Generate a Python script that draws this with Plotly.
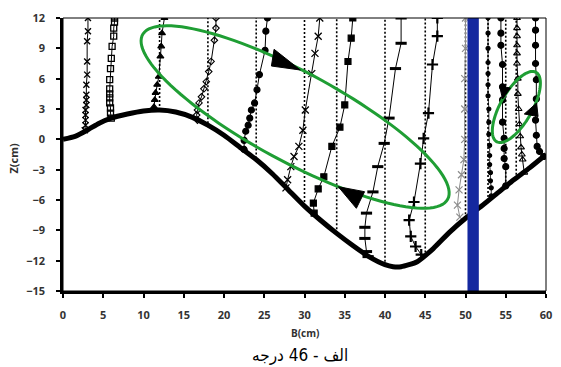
import plotly.graph_objects as go
import numpy as np

# ---------------- data ----------------
bed_x = [0, 1.5, 3, 4.5, 6, 8, 10, 12, 14, 16, 18, 20, 22, 24, 26, 28, 30, 32, 34, 36, 38, 40, 41, 42, 44, 46, 48, 50, 52, 54, 56, 58, 60]
bed_z = [0, 0.3, 0.9, 1.6, 2.1, 2.5, 2.8, 2.9, 2.7, 2.2, 1.4, 0.4, -0.8, -2.0, -3.4, -5.0, -6.6, -8.0, -9.3, -10.5, -11.6, -12.4, -12.6, -12.6, -12.1, -10.8, -9.2, -7.8, -6.6, -5.3, -4.0, -2.8, -1.5]

p1_x = [3.1, 3.1, 3.0, 3.0, 3.0, 2.9, 2.9, 2.9, 2.9, 2.8, 2.8, 2.8, 2.8, 2.7]
p1_z = [12, 10.7, 9.7, 7.7, 6.4, 5.4, 4.4, 3.9, 3.4, 2.9, 2.4, 1.9, 1.4, 0.9]

p2_x = [6.4, 6.4, 6.3, 6.3, 6.1, 6.0, 5.9, 5.8, 5.8, 5.8, 5.8, 5.8, 5.9, 5.9, 6.0]
p2_z = [12, 11.6, 11.0, 10.2, 9.2, 8.0, 7.0, 5.9, 5.0, 4.5, 4.1, 3.6, 3.1, 2.6, 2.1]

p3_x = [12.6, 12.3, 12.2, 12.1, 11.9, 11.7, 11.5, 11.4, 11.3, 11.2]
p3_z = [12, 10.5, 9.2, 8.2, 6.2, 5.4, 4.6, 3.9, 3.2, 2.9]

p4_x = [19.0, 19.0, 18.8, 18.4, 18.1, 17.8, 17.5, 17.2, 16.9, 16.7, 16.6, 16.7]
p4_z = [12, 11.0, 9.8, 7.7, 6.7, 5.7, 5.0, 4.2, 3.6, 2.9, 2.4, 1.9]

p5_x = [25.4, 25.2, 25.1, 24.4, 24.1, 23.8, 23.4, 23.2, 23.0, 22.7, 22.5, 22.5]
p5_z = [12, 10.7, 8.8, 6.4, 4.9, 3.6, 2.9, 2.1, 1.4, 0.8, -0.1, -1.0]

p6_x = [31.9, 31.7, 31.3, 30.9, 30.1, 29.8, 29.3, 28.7, 28.3, 27.9, 27.7]
p6_z = [12, 10.2, 8.5, 6.5, 2.9, 0.9, -0.7, -1.7, -2.7, -4.0, -4.8]

p7_x = [36.0, 35.8, 35.4, 35.0, 34.4, 33.4, 32.4, 31.7, 31.1, 31.2]
p7_z = [12, 10.0, 7.7, 3.4, 1.2, -0.7, -3.7, -4.9, -6.3, -7.3]

p8_x = [42.0, 42.0, 41.3, 40.5, 39.9, 39.1, 38.5, 37.7, 37.5, 37.5, 37.7, 37.9]
p8_z = [12, 9.5, 7.0, 2.1, -0.4, -2.7, -5.2, -7.3, -8.7, -9.8, -11.1, -11.6]

p9_x = [46.5, 46.5, 45.9, 45.4, 44.8, 44.4, 43.6, 43.0, 43.2, 43.8, 44.5]
p9_z = [12, 10.2, 7.4, 2.6, 0.1, -2.4, -6.2, -8.0, -9.6, -10.6, -11.4]

p10_x = [50.0, 50.0, 49.9, 49.9, 49.9, 49.8, 49.5, 49.2, 49.0, 49.3]
p10_z = [12, 9.0, 6.0, 3.0, 0.0, -2.0, -3.5, -5.0, -6.5, -7.7]

p11_x = [52.8, 52.8, 52.8, 52.8, 52.8, 52.8, 52.8, 52.9, 52.9, 52.9, 53.0, 53.0, 53.0, 53.1, 53.1, 53.2, 53.2]
p11_z = [12, 10.5, 9.0, 7.6, 6.5, 5.4, 4.3, 3.0, 1.7, 0.5, -0.6, -1.6, -2.5, -3.3, -4.1, -4.8, -5.6]

p12_x = [54.4, 54.4, 54.4, 54.6, 54.6, 54.6, 54.6, 54.8, 54.8, 54.8, 55.0, 55.0]
p12_z = [12, 10.5, 9.3, 7.4, 5.2, 3.9, 1.7, 0.1, -0.9, -1.9, -2.7, -4.6]

p13_x = [56.4, 56.4, 56.4, 56.4, 56.4, 56.4, 56.5, 56.5, 56.6, 56.7, 56.8, 56.9, 57.0, 57.1, 57.3]
p13_z = [12, 11.0, 10.2, 9.3, 8.5, 7.5, 6.0, 4.5, 3.0, 1.5, 0.3, -0.8, -1.5, -2.0, -3.3]

p14_x = [58.7, 58.7, 58.7, 58.7, 58.8, 58.8, 58.7, 58.8, 58.9, 59.2, 59.7]
p14_z = [12, 10.8, 9.3, 7.5, 5.9, 4.0, 1.9, 0.4, -0.7, -1.2, -1.7]

guide_x = [12.0, 18.0, 24.0, 30.0, 34.0, 40.0, 45.0, 50.0, 52.8, 55.0, 56.3]
guide_base = [2.9, 1.2, -1.9, -6.6, -9.3, -12.1, -11.2, -7.8, -6.1, -4.6, -3.9]
guide_top = 12

x_ticks = list(range(0, 61, 5))
y_ticks = list(range(-15, 13, 3))

# ---------------- figure ----------------
W, H = 561, 367
ML, MR, MT, MB = 63, 9, 18, 76
X0, X1, Y0, Y1 = 0, 60, -15, 12
pw, ph = W - ML - MR, H - MT - MB

def px2d(px, py):
    return (X0 + (px - ML) / pw * (X1 - X0), Y1 - (py - MT) / ph * (Y1 - Y0))

fig = go.Figure()

# dashed guide lines
for gx, gb in zip(guide_x, guide_base):
    fig.add_trace(go.Scatter(x=[gx, gx], y=[gb, guide_top], mode="lines",
                             line=dict(color="black", width=1.6, dash="2px,2px"),
                             hoverinfo="skip", showlegend=False))

def prof(xs, zs, symbol, size, color="black", lw=1, mlw=1.2, mcolor=None):
    fig.add_trace(go.Scatter(x=xs, y=zs, mode="lines+markers",
                             line=dict(color=color, width=lw),
                             marker=dict(symbol=symbol, size=size, color=mcolor or color,
                                         line=dict(color=color, width=mlw)),
                             showlegend=False))

prof(p1_x, p1_z, "x-thin", 6, mlw=1.4)
prof(p2_x, p2_z, "square-open", 6, mlw=1.3)
prof(p3_x, p3_z, "triangle-up", 6)
prof(p4_x, p4_z, "diamond-open", 5, mlw=1.1)
prof(p5_x, p5_z, "circle", 6)
prof(p6_x, p6_z, "x-thin", 7, mlw=1.3)
prof(p7_x, p7_z, "square", 6)
prof(p8_x, p8_z, "line-ew", 8, mlw=3)
prof(p9_x, p9_z, "cross-thin", 8, mlw=2.2)
prof(p10_x, p10_z, "x-thin", 7, color="#8c8c8c", mlw=1.2)
prof(p11_x, p11_z, "circle", 4, lw=0.8)
prof(p12_x, p12_z, "circle", 6)
prof(p13_x, p13_z, "triangle-up-open", 6, mlw=1.1)
prof(p14_x, p14_z, "circle", 6)

# bed profile
fig.add_trace(go.Scatter(x=bed_x, y=bed_z, mode="lines",
                         line=dict(color="black", width=5, shape="spline", smoothing=0.6),
                         showlegend=False))

shapes = []
# blue bar
bx0, _ = px2d(472.5, 0)
bx1, _ = px2d(484, 0)
shapes.append(dict(type="rect", xref="x", yref="y", x0=bx0, x1=bx1, y0=Y0, y1=Y1,
                   fillcolor="#14289f", line=dict(width=0), layer="above"))

def ellipse_path(cx, cy, a, b, ang_deg, n=120):
    t = np.linspace(0, 2 * np.pi, n)
    ang = np.radians(ang_deg)
    px = cx + a * np.cos(t) * np.cos(ang) - b * np.sin(t) * np.sin(ang)
    py = cy + a * np.cos(t) * np.sin(ang) + b * np.sin(t) * np.cos(ang)
    pts = [px2d(u, v) for u, v in zip(px, py)]
    return "M " + " L ".join(f"{u:.3f},{v:.3f}" for u, v in pts) + " Z"

green = "#1f9e34"
shapes.append(dict(type="path", xref="x", yref="y", path=ellipse_path(298, 117, 175, 45, 28),
                   line=dict(color=green, width=3), layer="above"))
shapes.append(dict(type="path", xref="x", yref="y", path=ellipse_path(522, 107, 40, 16, -60),
                   line=dict(color=green, width=3), layer="above"))

def tri(pts):
    d = [px2d(u, v) for u, v in pts]
    return "M " + " L ".join(f"{u:.3f},{v:.3f}" for u, v in d) + " Z"

for t in [[(276.7, 49.3), (274, 66), (303.3, 70)],
          [(341.7, 186.7), (368.3, 191.7), (360, 208.3)],
          [(530, 114), (542.5, 103), (544, 116.5)],
          [(505, 86), (516, 88), (508, 99)]]:
    shapes.append(dict(type="path", xref="x", yref="y", path=tri(t),
                       fillcolor="black", line=dict(color="black", width=1), layer="above"))

# thin frame on top/right
shapes.append(dict(type="rect", xref="paper", yref="paper", x0=0, x1=1, y0=0, y1=1,
                   line=dict(color="black", width=1), layer="above"))

tickfont = dict(family="Open Sans, sans-serif", size=11, color="#333333", weight=700)
fig.update_layout(
    width=W, height=H, margin=dict(l=ML, r=MR, t=MT, b=MB),
    plot_bgcolor="white", paper_bgcolor="white",
    shapes=shapes,
    xaxis=dict(range=[X0, X1], tickvals=x_ticks, ticks="outside", ticklen=4, tickwidth=2,
               tickcolor="black", showline=True, linecolor="black", linewidth=2.5,
               showgrid=False, zeroline=False, tickfont=tickfont, ticklabelstandoff=8),
    yaxis=dict(range=[Y0, Y1], tickvals=y_ticks, ticks="outside", ticklen=4, tickwidth=2,
               tickcolor="black", showline=True, linecolor="black", linewidth=2.5,
               showgrid=False, zeroline=False, tickfont=tickfont, ticklabelstandoff=9),
    annotations=[
        dict(text="<b>B(cm)</b>", xref="paper", yref="paper", x=0.5, y=0, yshift=-42,
             xanchor="center", yanchor="middle",
             showarrow=False, font=dict(family="Open Sans, sans-serif", size=10, color="#303030")),
        dict(text="<b>Z(cm)</b>", xref="paper", yref="paper", x=0, y=0.5, xshift=-50, yshift=-4,
             xanchor="center", yanchor="middle",
             textangle=-90, showarrow=False, font=dict(family="Open Sans, sans-serif", size=11, color="#303030")),
        dict(text="الف - 46 درجه", xref="paper", yref="paper", x=0.49, y=0, yshift=-64,
             xanchor="center", yanchor="middle",
             showarrow=False, font=dict(family="DejaVu Sans Condensed, DejaVu Sans, sans-serif", size=17,
                                        color="black", weight="normal")),
    ],
)

fig.write_html("out.html")
